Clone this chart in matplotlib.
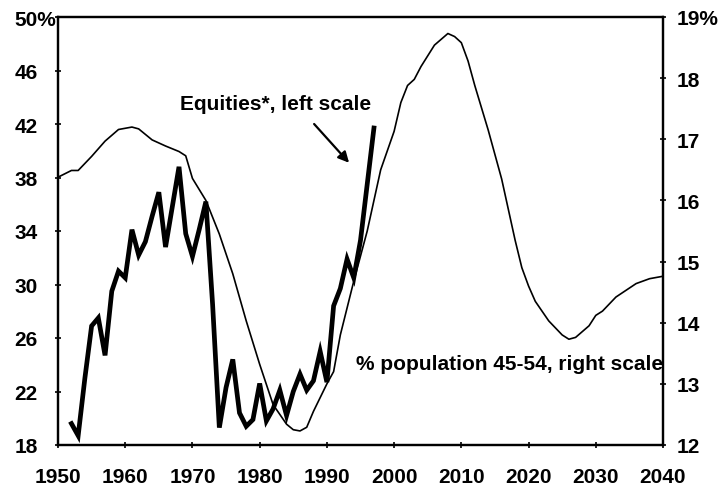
"""Equities share vs. share of population aged 45-54 (scanned-chart recreation)."""
import matplotlib
matplotlib.use("Agg")
import matplotlib.pyplot as plt

plt.rcParams["font.family"] = ["Liberation Sans", "DejaVu Sans"]

# equities, left scale (%)
eq_years = list(range(1952, 1998))
eq_values = [19.6, 18.7, 23.0, 26.9, 27.5, 24.7, 29.5, 31.0, 30.5, 34.1,
             32.2, 33.2, 35.1, 36.9, 32.8, 35.8, 38.8, 33.8, 32.1, 34.1,
             36.2, 28.5, 19.3, 22.3, 24.4, 20.4, 19.4, 19.9, 22.6, 19.8,
             20.7, 22.1, 20.2, 22.0, 23.3, 22.1, 22.8, 25.0, 22.7, 28.4,
             29.7, 31.9, 30.5, 33.3, 37.5, 41.7]

# % of population aged 45-54, right scale
pop_years = [1950, 1952, 1953, 1955, 1957, 1959, 1961, 1962, 1964, 1966,
             1968, 1969, 1970, 1972, 1974, 1976, 1978, 1980, 1982, 1984,
             1985, 1986, 1987, 1988, 1990, 1991, 1992, 1994, 1996, 1998,
             2000, 2001, 2002, 2003, 2004, 2006, 2008, 2009, 2010, 2011,
             2012, 2014, 2016, 2018, 2019, 2020, 2021, 2023, 2025, 2026,
             2027, 2029, 2030, 2031, 2033, 2036, 2038, 2040]
pop_values = [16.38, 16.49, 16.49, 16.72, 16.97, 17.16, 17.20, 17.17, 16.99, 16.89,
              16.80, 16.73, 16.36, 16.00, 15.45, 14.80, 14.03, 13.32, 12.66, 12.34,
              12.25, 12.23, 12.29, 12.55, 13.00, 13.20, 13.80, 14.68, 15.50, 16.50,
              17.13, 17.60, 17.88, 17.98, 18.19, 18.54, 18.73, 18.68, 18.58, 18.28,
              17.88, 17.15, 16.35, 15.35, 14.90, 14.60, 14.35, 14.03, 13.80, 13.73,
              13.76, 13.95, 14.12, 14.19, 14.42, 14.64, 14.72, 14.76]

x_ticks = list(range(1950, 2041, 10))
left_ticks = [18, 22, 26, 30, 34, 38, 42, 46, 50]
left_labels = ["18", "22", "26", "30", "34", "38", "42", "46", "50%"]
right_ticks = [12, 13, 14, 15, 16, 17, 18, 19]
right_labels = ["12", "13", "14", "15", "16", "17", "18", "19%"]

fig = plt.figure(figsize=(7.25, 4.89), dpi=100)
ax = fig.add_axes([58 / 725, 1 - 446 / 489, 605 / 725, 428 / 489])
ax2 = ax.twinx()

ax2.plot(pop_years, pop_values, color="black", lw=1.2, zorder=2)
ax.plot(eq_years, eq_values, color="black", lw=3.4, solid_joinstyle="miter", zorder=3)
ax.set_zorder(ax2.get_zorder() + 1)
ax.patch.set_visible(False)

ax.set_xlim(1950, 2040)
ax.set_ylim(18, 50)
ax2.set_ylim(12, 19)

tick_font = dict(fontsize=15, fontweight="bold")
ax.set_xticks(x_ticks, [str(y) for y in x_ticks], **tick_font)
ax.set_yticks(left_ticks, left_labels, **tick_font)
ax2.set_yticks(right_ticks, right_labels, **tick_font)
for lab in ax.get_yticklabels():
    lab.set_horizontalalignment("left")

ax.tick_params(axis="x", direction="inout", length=5, width=1.2, pad=13)
ax.tick_params(axis="y", direction="inout", length=5, width=1.2, pad=29)
ax2.tick_params(axis="y", direction="inout", length=5, width=1.2, pad=7)

for a in (ax, ax2):
    for s in a.spines.values():
        s.set_linewidth(1.6)
        s.set_color("black")

note_font = dict(fontsize=15, fontweight="bold")
ax.text(1968.2, 43.5, "Equities*, left scale", ha="left", va="center", **note_font)
ax.annotate("", xy=(1993.3, 39.1), xytext=(1988.1, 42.0),
            arrowprops=dict(arrowstyle="-|>", color="black", lw=1.6,
                            mutation_scale=16, shrinkA=0, shrinkB=0))
ax.text(1994.3, 24.1, "% population 45-54, right scale", ha="left", va="center",
        **note_font)

fig.savefig("out.png", dpi=100)
